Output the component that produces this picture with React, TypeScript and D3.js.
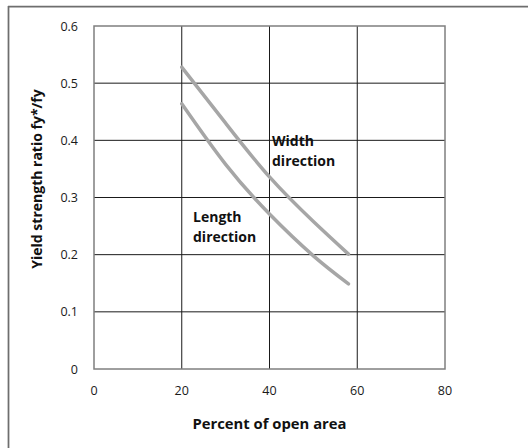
import React from "react";
import * as d3 from "d3";

const xTicks = [0, 20, 40, 60, 80];
const yTicks = [0, 0.1, 0.2, 0.3, 0.4, 0.5, 0.6];
const yTickLabels = ["0", "0.1", "0.2", "0.3", "0.4", "0.5", "0.6"];

const widthX = [20, 30, 40, 50, 58];
const widthY = [0.528, 0.43, 0.336, 0.258, 0.201];
const lengthX = [20, 30, 40, 50, 58];
const lengthY = [0.464, 0.358, 0.271, 0.198, 0.149];

const xTitle = "Percent of open area";
const yTitle = "Yield strength ratio fy*/fy";

export default function App() {
  const W = 528, H = 448;
  const left = 94, right = 445, top = 26, bottom = 369;
  const x = d3.scaleLinear().domain([0, 80]).range([left, right]);
  const y = d3.scaleLinear().domain([0, 0.6]).range([bottom, top]);
  const line = d3
    .line<[number, number]>()
    .x((d) => x(d[0]))
    .y((d) => y(d[1]))
    .curve(d3.curveNatural);
  const wPts = widthX.map((v, i) => [v, widthY[i]] as [number, number]);
  const lPts = lengthX.map((v, i) => [v, lengthY[i]] as [number, number]);
  const font = "'Open Sans', sans-serif";
  const labelSize = 14;
  return (
    <svg
      width={W}
      height={H}
      style={{ position: "absolute", left: 0, top: 0, background: "#fff" }}
      fontFamily={font}
    >
      <rect x={0} y={0} width={W} height={H} fill="#fff" />
      <line x1={8.5} y1={6} x2={8.5} y2={H} stroke="#6e6e6e" strokeWidth={1.75} />
      <line x1={8} y1={6.5} x2={W} y2={6.5} stroke="#6e6e6e" strokeWidth={1.75} />
      {xTicks.slice(1, -1).map((t) => (
        <line key={"gx" + t} x1={x(t)} x2={x(t)} y1={top} y2={bottom} stroke="#1a1a1a" strokeWidth={1} />
      ))}
      {yTicks.slice(1, -1).map((t) => (
        <line key={"gy" + t} x1={left} x2={right} y1={y(t)} y2={y(t)} stroke="#1a1a1a" strokeWidth={1} />
      ))}
      <rect x={left} y={top} width={right - left} height={bottom - top} fill="none" stroke="#7f7f7f" strokeWidth={1.5} />
      <path d={line(wPts) || ""} fill="none" stroke="#a6a6a6" strokeWidth={3.5} strokeLinecap="round" />
      <path d={line(lPts) || ""} fill="none" stroke="#a6a6a6" strokeWidth={3.5} strokeLinecap="round" />
      {yTicks.map((t, i) => (
        <text key={"ty" + t} x={78} y={y(t)} textAnchor="end" dominantBaseline="central" fontSize={12.5} fill="#1a1a1a">
          {yTickLabels[i]}
        </text>
      ))}
      {xTicks.map((t) => (
        <text key={"tx" + t} x={x(t)} y={390} textAnchor="middle" dominantBaseline="central" fontSize={12.5} fill="#1a1a1a">
          {t}
        </text>
      ))}
      <text x={(left + right) / 2} y={423} textAnchor="middle" dominantBaseline="central" fontSize={14.8} fontWeight="bold" fill="#111">
        {xTitle}
      </text>
      <text
        transform={`translate(36,179) rotate(-90)`}
        textAnchor="middle"
        dominantBaseline="central"
        fontSize={labelSize}
        fontWeight="bold"
        fill="#111"
      >
        {yTitle}
      </text>
      <text x={272} y={140} dominantBaseline="central" fontSize={labelSize} fontWeight="bold" fill="#111">Width</text>
      <text x={272} y={160} dominantBaseline="central" fontSize={labelSize} fontWeight="bold" fill="#111">direction</text>
      <text x={193} y={216} dominantBaseline="central" fontSize={labelSize} fontWeight="bold" fill="#111">Length</text>
      <text x={193} y={236} dominantBaseline="central" fontSize={labelSize} fontWeight="bold" fill="#111">direction</text>
    </svg>
  );
}
